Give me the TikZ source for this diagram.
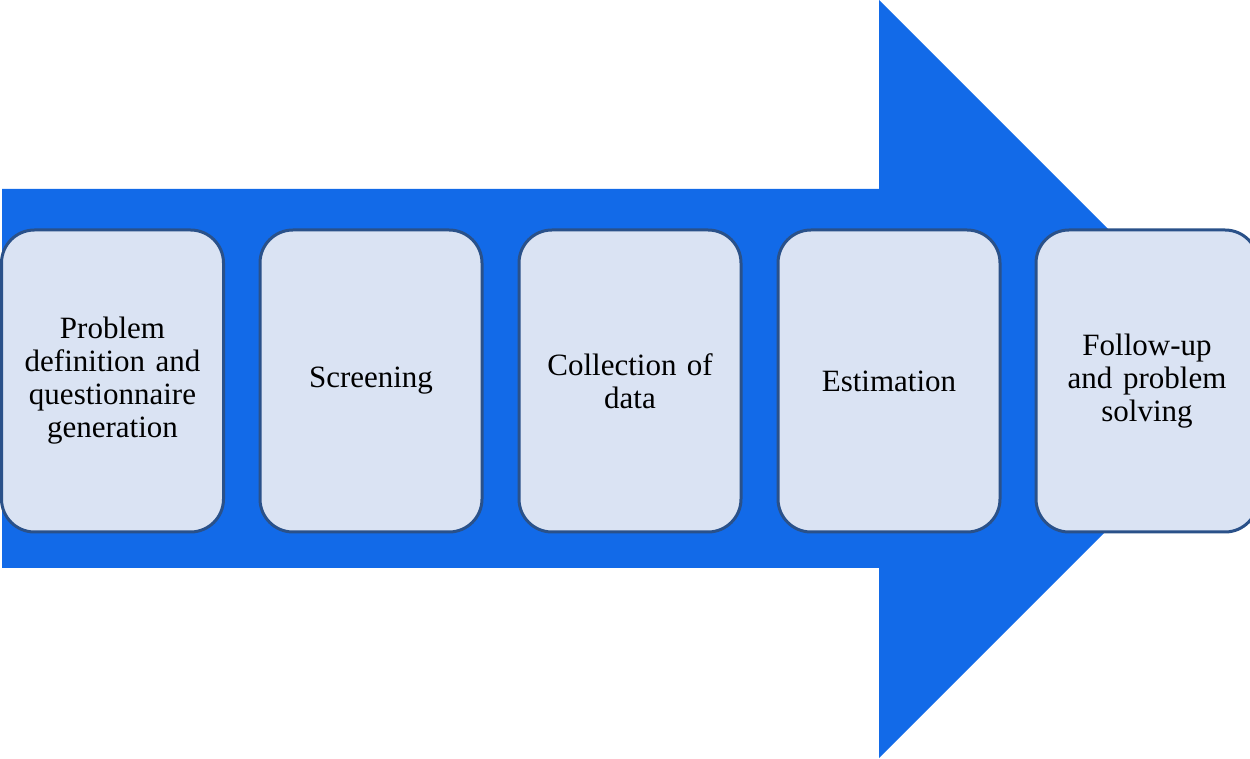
\documentclass[tikz,border=0pt]{standalone}
\usepackage{fontspec}
\setmainfont{Liberation Serif}
\definecolor{arrowblue}{RGB}{18,106,232}
\definecolor{boxfill}{RGB}{218,227,243}
\definecolor{boxline}{RGB}{42,81,137}
\begin{document}
\begin{tikzpicture}[x=1pt,y=1pt,
  stage/.style={draw=boxline,fill=boxfill,line width=3pt,rounded corners=33pt,
    minimum width=222pt,minimum height=302pt,align=center,text width=196pt,
    font=\fontsize{31}{33}\selectfont}]
  \useasboundingbox (0,0) rectangle (1250,758);
  \clip (0,0) rectangle (1250,758);
  % big arrow behind the stages
  \fill[arrowblue] (2,190) -- (2,569) -- (879,569) -- (879,758) -- (1258,379)
    -- (879,0) -- (879,190) -- cycle;
  \node[stage] (s1) at (112.5,377) {Problem\\definition and\\questionnaire\\generation};
  \node[stage] (s2) at (371,377) {Screening};
  \node[stage] (s3) at (630,377) {Collection of\\data};
  \node[stage] (s4) at (889,377) {Estimation};
  \node[stage] (s5) at (1147,377) {Follow-up\\and\hspace{0.35em}problem\\solving};
\end{tikzpicture}
\end{document}
